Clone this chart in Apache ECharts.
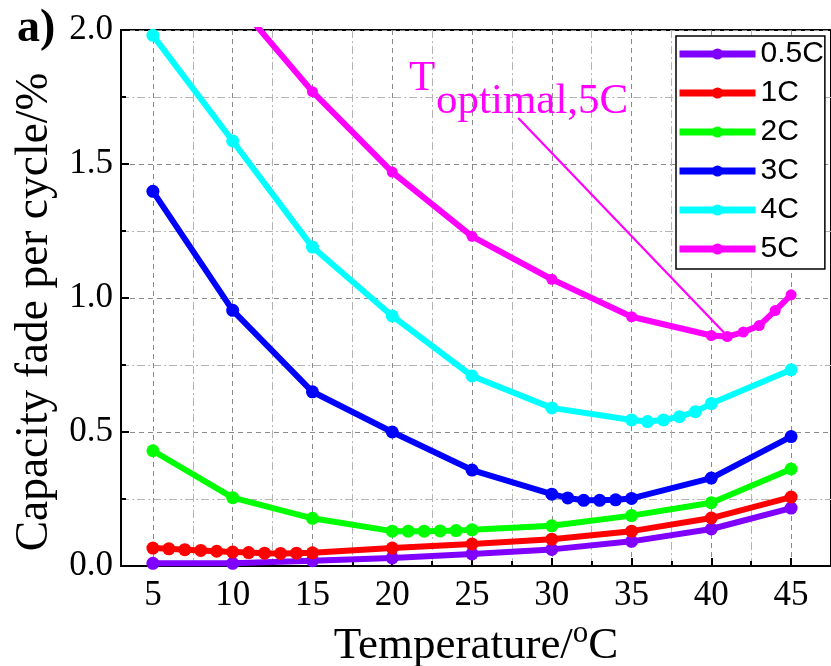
<!DOCTYPE html>
<html><head><meta charset="utf-8">
<script src="https://cdn.jsdelivr.net/npm/echarts@6/dist/echarts.min.js"></script>
<style>html,body{margin:0;padding:0;background:#fff}#c{width:831px;height:666px}</style>
</head><body><div id="c"></div>
<script>
// ---- data ----
const names = ['0.5C', '1C', '2C', '3C', '4C', '5C'];
const temps05 = [5, 10, 15, 20, 25, 30, 35, 40, 45];
const vals05 = [0.010, 0.010, 0.020, 0.030, 0.045, 0.062, 0.092, 0.138, 0.216];
const temps1 = [5, 6, 7, 8, 9, 10, 11, 12, 13, 14, 15, 20, 25, 30, 35, 40, 45];
const vals1 = [0.067, 0.064, 0.061, 0.058, 0.055, 0.052, 0.050, 0.048, 0.047, 0.048, 0.049, 0.067, 0.082, 0.100, 0.130, 0.179, 0.257];
const temps2 = [5, 10, 15, 20, 21, 22, 23, 24, 25, 30, 35, 40, 45];
const vals2 = [0.430, 0.255, 0.178, 0.130, 0.130, 0.130, 0.131, 0.132, 0.135, 0.150, 0.188, 0.236, 0.362];
const temps3 = [5, 10, 15, 20, 25, 30, 31, 32, 33, 34, 35, 40, 45];
const vals3 = [1.398, 0.954, 0.650, 0.500, 0.358, 0.268, 0.254, 0.245, 0.245, 0.247, 0.252, 0.328, 0.483];
const temps4 = [5, 10, 15, 20, 25, 30, 35, 36, 37, 38, 39, 40, 45];
const vals4 = [1.980, 1.586, 1.190, 0.933, 0.709, 0.590, 0.545, 0.539, 0.545, 0.557, 0.576, 0.606, 0.732];
const temps5 = [10, 15, 20, 25, 30, 35, 40, 41, 42, 43, 44, 45];
const vals5 = [2.120, 1.770, 1.470, 1.230, 1.070, 0.930, 0.860, 0.856, 0.873, 0.897, 0.953, 1.012];
const xMajorTicks = [5, 10, 15, 20, 25, 30, 35, 40, 45];
const xMinorTicks = [7.5, 12.5, 17.5, 22.5, 27.5, 32.5, 37.5, 42.5];
const xRange = [3, 47.5];
const yRange = [0, 2.0];
const yStep = 0.5;
const arrowStart = [27.9, 1.672];
const arrowEnd = [41.0, 0.858];

// ---- styles ----
const colors = ['#7F00FF', '#FF0000', '#00FF00', '#0000FF', '#00FFFF', '#FF00FF'];
const serif = 'Liberation Serif';
const temps = [temps05, temps1, temps2, temps3, temps4, temps5];
const vals = [vals05, vals1, vals2, vals3, vals4, vals5];

const series = names.map((n, i) => ({
  name: n,
  type: 'line',
  data: temps[i].map((t, k) => [t, vals[i][k]]),
  symbol: 'circle',
  symbolSize: i === 5 ? 11 : 13,
  lineStyle: { width: 6, color: colors[i] },
  itemStyle: { color: colors[i] },
  clip: true,
  z: 3 + i
}));
series[5].markLine = {
  silent: true,
  symbol: ['none', 'arrow'],
  symbolSize: [0, 36],
  lineStyle: { color: '#FF00FF', width: 2.2, type: 'solid' },
  label: { show: false },
  data: [[{ coord: arrowStart }, { coord: arrowEnd }]]
};

const chart = echarts.init(document.getElementById('c'));
chart.setOption({
  animation: false,
  backgroundColor: '#fff',
  grid: { left: 121, right: 0, top: 30, bottom: 100, outerBoundsMode: 'none', containLabel: false,
    show: true, borderColor: '#000', borderWidth: 2, backgroundColor: 'transparent' },
  xAxis: [{
    type: 'value', min: xRange[0], max: xRange[1], position: 'bottom',
    axisLine: { show: true, onZero: false, lineStyle: { color: '#000', width: 2 } },
    axisTick: { show: true, inside: true, length: 8, customValues: xMajorTicks, lineStyle: { color: '#000', width: 2 } },
    axisLabel: { customValues: xMajorTicks, color: '#000', fontFamily: serif, fontSize: 35, margin: 12 },
    splitLine: { show: true, lineStyle: { color: '#8a8a8a', width: 1, type: [5, 4] } },
    name: '{a|Temperature/}{s|o}{a|C}',
    nameLocation: 'middle', nameGap: 42,
    nameTextStyle: { rich: {
      a: { fontFamily: serif, fontSize: 45, color: '#000' },
      s: { fontFamily: serif, fontSize: 31, color: '#000', padding: [0, 0, 26, 0] }
    } }
  }, {
    type: 'value', min: xRange[0], max: xRange[1], position: 'bottom',
    axisLine: { show: false },
    axisTick: { show: true, inside: true, length: 5, customValues: xMinorTicks, lineStyle: { color: '#000', width: 2 } },
    axisLabel: { show: false },
    splitLine: { show: true, lineStyle: { color: '#b4b4b4', width: 1, type: [8, 3, 2, 3] } }
  }],
  yAxis: {
    type: 'value', min: yRange[0], max: yRange[1], interval: yStep,
    axisLine: { show: true, lineStyle: { color: '#000', width: 2 } },
    axisTick: { show: true, inside: true, length: 8, lineStyle: { color: '#000', width: 2 } },
    minorTick: { show: true, splitNumber: 2, length: 5, lineStyle: { color: '#000', width: 2 } },
    axisLabel: { formatter: v => v.toFixed(1), color: '#000', fontFamily: serif, fontSize: 35, margin: 8 },
    splitLine: { show: true, lineStyle: { color: '#8a8a8a', width: 1, type: [5, 4] } },
    minorSplitLine: { show: true, lineStyle: { color: '#b4b4b4', width: 1, type: [8, 3, 2, 3] } },
    name: 'Capacity fade per cycle/%',
    nameLocation: 'middle', nameGap: 62,
    nameTextStyle: { fontFamily: serif, fontSize: 45.5, color: '#000', padding: [0, 28, 0, 0] }
  },
  legend: {
    orient: 'vertical', left: 676, top: 36,
    itemWidth: 76, itemHeight: 14, itemGap: 9,
    padding: [3, 1, 5, 0],
    borderColor: '#000', borderWidth: 1.5, backgroundColor: '#fff',
    lineStyle: { width: 7 },
    textStyle: { fontFamily: 'Liberation Sans', fontSize: 30, color: '#000' },
    data: names,
    z: 20
  },
  graphic: [
    { type: 'text', left: 17, top: 6, style: { text: 'a)', fontFamily: serif, fontWeight: 'bold', fontSize: 46, fill: '#000' } },
    { type: 'text', left: 409, top: 57, z: 30, style: { text: 'T', fontFamily: serif, fontSize: 43, fill: '#FF00FF' } },
    { type: 'text', left: 436, top: 80, z: 30, style: { text: 'optimal,5C', fontFamily: serif, fontSize: 43, fill: '#FF00FF' } }
  ],
  series: series
});
</script></body></html>
